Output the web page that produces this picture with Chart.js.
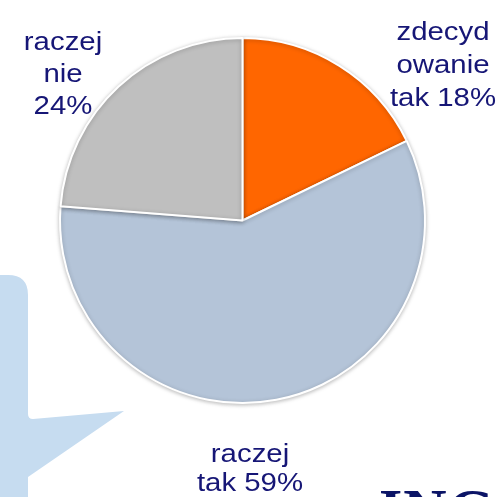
<!DOCTYPE html>
<html>
<head>
<meta charset="utf-8">
<script src="https://cdn.jsdelivr.net/npm/chart.js@4.4.1/dist/chart.umd.min.js"></script>
<style>
  html, body { margin: 0; padding: 0; background: #fff; }
  .wrap { position: relative; width: 500px; height: 497px; overflow: hidden; }
  canvas { position: absolute; left: 0; top: 0; }
  .brand {
    position: absolute; left: 379px; top: 480px;
    font-family: 'Liberation Serif', serif; font-weight: bold;
    font-size: 60px; line-height: 60px; color: #0b1466; letter-spacing: 1px;
  }
</style>
</head>
<body>
<div class="wrap">
  <canvas id="pie" width="500" height="497"></canvas>
  <div class="brand">ING</div>
</div>
<script>
// categories and shares (%), clockwise from 12 o'clock
const categories = ['zdecydowanie tak', 'raczej tak', 'raczej nie'];
const shares = [18, 59, 24];
const sliceColors = ['#ff6600', '#b4c4d8', '#bfbfbf'];

// how each label is broken into lines on the slide
const labelLines = [
  ['zdecyd', 'owanie', 'tak ' + shares[0] + '%'],
  ['raczej', 'tak ' + shares[1] + '%'],
  ['raczej', 'nie', shares[2] + '%']
];
// label anchor (centre x, first baseline y, line step)
const labelAnchors = [[443, 40, 33], [250, 462, 29], [63, 50, 32]];

// light blue speech bubble behind the pie
const bubble = {
  id: 'bubble',
  beforeDraw(chart) {
    const c = chart.ctx;
    c.save();
    c.fillStyle = '#c6dcf0';
    c.beginPath();
    c.moveTo(0, 275);
    c.lineTo(8, 275);
    c.quadraticCurveTo(28, 275, 28, 295);
    c.lineTo(28, 414);
    c.quadraticCurveTo(28, 419, 33, 419);
    c.lineTo(124, 411);
    c.lineTo(28, 477);
    c.lineTo(28, 497);
    c.lineTo(0, 497);
    c.closePath();
    c.fill();
    c.restore();
  }
};

// soft shadow under the pie
const pieShadow = {
  id: 'pieShadow',
  beforeDatasetsDraw(chart) {
    const c = chart.ctx;
    c.save();
    c.shadowColor = 'rgba(0,0,0,0.25)';
    c.shadowBlur = 4;
    c.shadowOffsetY = 1;
  },
  afterDatasetsDraw(chart) {
    chart.ctx.restore();
  }
};

// the slide text is a little stretched sideways
const sliceLabels = {
  id: 'sliceLabels',
  afterDraw(chart) {
    const c = chart.ctx;
    const sx = 1.13;
    c.save();
    c.fillStyle = '#161676';
    c.font = '26px "Liberation Sans", Arial, sans-serif';
    c.textAlign = 'center';
    c.textBaseline = 'alphabetic';
    labelLines.forEach((lines, i) => {
      const [x, y, step] = labelAnchors[i];
      lines.forEach((t, j) => {
        c.save();
        c.translate(x, y + j * step);
        c.scale(sx, 1);
        c.fillText(t, 0, 0);
        c.restore();
      });
    });
    c.restore();
  }
};

new Chart(document.getElementById('pie'), {
  type: 'pie',
  data: {
    labels: categories,
    datasets: [{
      data: shares,
      backgroundColor: sliceColors,
      borderColor: '#ffffff',
      borderWidth: 2
    }]
  },
  options: {
    responsive: false,
    animation: false,
    layout: { padding: { left: 59, right: 74, top: 37, bottom: 93 } },
    plugins: {
      legend: { display: false },
      tooltip: { enabled: false }
    }
  },
  plugins: [bubble, pieShadow, sliceLabels]
});
</script>
</body>
</html>
